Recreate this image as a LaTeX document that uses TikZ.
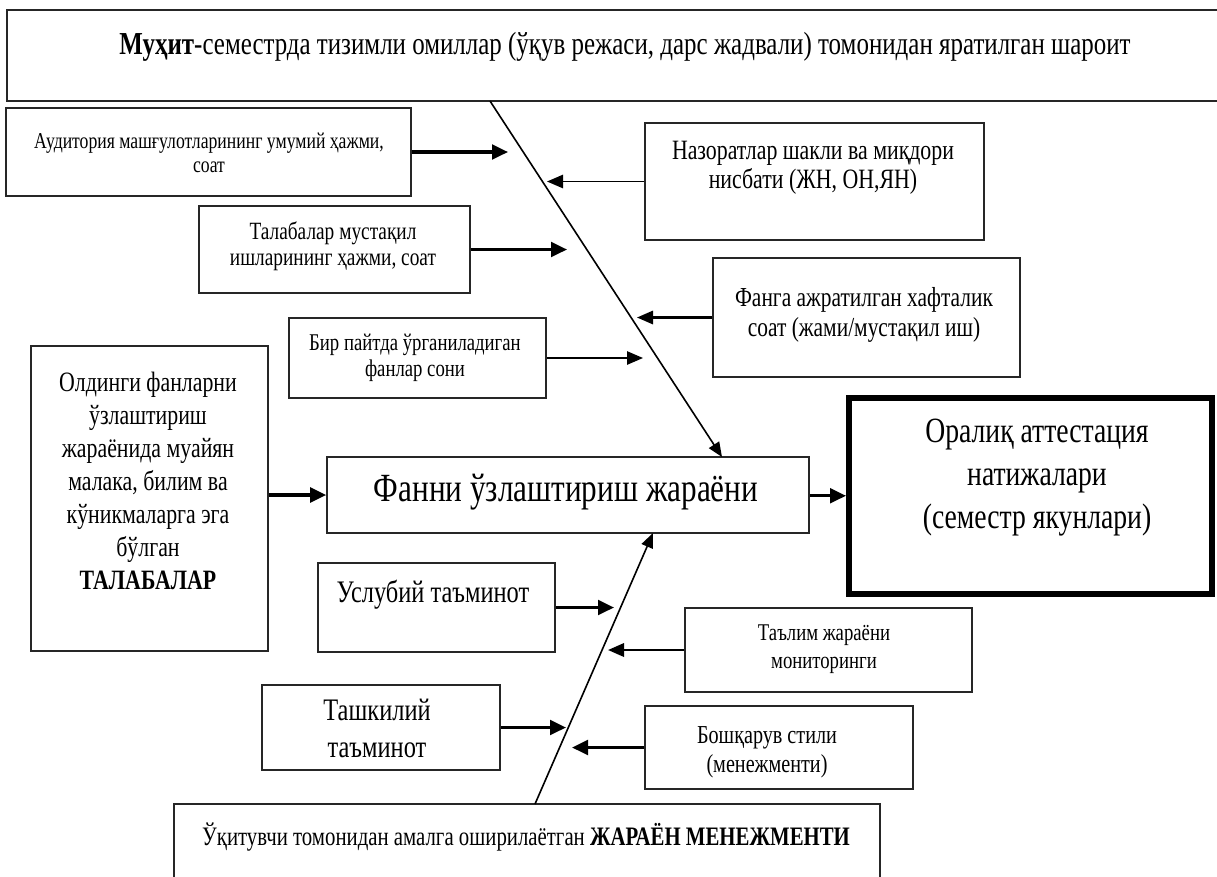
\documentclass[tikz,border=0pt]{standalone}
\usepackage{fontspec}
\setmainfont[FakeStretch=0.78]{Liberation Serif}
\usetikzlibrary{arrows.meta,fit}
\begin{document}
\begin{tikzpicture}[x=0.75pt,y=-0.75pt,
  box/.style={draw=black!85,line width=1.2pt,inner sep=0pt},
  txt/.style={inner sep=0pt,align=center,text=black},
  thickarr/.style={line width=2.3pt,-{Triangle[length=12pt,width=11pt]}},
  thinarr/.style={line width=1.2pt,-{Triangle[length=12pt,width=10pt]}},
  spine/.style={line width=1.2pt,-{Triangle[length=11pt,width=9pt]}}]
\useasboundingbox (0,0) rectangle (1217,876);
\fill[white] (0,0) rectangle (1217,876);
% boxes
\node[box,fit={(7,10) (1240,101)}] (top) {};
\node[box,fit={(6,108) (411,196)}] (A) {};
\node[box,fit={(645,123) (984,240)}] (B) {};
\node[box,fit={(199,206) (470,293)}] (C) {};
\node[box,fit={(713,258) (1020,377)}] (D) {};
\node[box,fit={(289,318) (546,398)}] (E) {};
\node[box,fit={(31,346) (268,651)}] (F) {};
\node[box,fit={(327,457) (809,533)}] (G) {};
\node[draw=black,line width=4.5pt,inner sep=0pt,fit={(849,397.5) (1212,594)}] (R) {};
\node[box,fit={(318,563) (555,652)}] (U) {};
\node[box,fit={(685,608) (972,692)}] (T) {};
\node[box,fit={(262,685) (500,770)}] (K) {};
\node[box,fit={(645,706) (913,789)}] (S) {};
\node[box,fit={(174,804) (880,920)}] (M) {};
% texts
\node[txt,font=\fontsize{24pt}{28pt}\selectfont] (topt) at (625,47) {\textbf{Муҳит}-семестрда тизимли омиллар (ўқув режаси, дарс жадвали) томонидан яратилган шароит};
\node[txt,font=\fontsize{17pt}{18pt}\selectfont] (At) at (209,153) {Аудитория машғулотларининг умумий ҳажми,\\соат};
\node[txt,font=\fontsize{21pt}{21.75pt}\selectfont] (Bt) at (813,167.5) {Назоратлар шакли ва миқдори\\нисбати (ЖН, ОН,ЯН)};
\node[txt,font=\fontsize{18.6pt}{19.5pt}\selectfont] (Ct) at (333,246) {Талабалар мустақил\\ишларининг ҳажми, соат};
\node[txt,font=\fontsize{20.6pt}{22.5pt}\selectfont] (Dt) at (864,315) {Фанга ажратилган хафталик\\соат (жами/мустақил иш)};
\node[txt,font=\fontsize{18pt}{19.5pt}\selectfont] (Et) at (415,358) {Бир пайтда ўрганиладиган\\фанлар сони};
\node[txt,font=\fontsize{21pt}{24.75pt}\selectfont] (Ft) at (148,481) {Олдинги фанларни\\ўзлаштириш\\жараёнида муайян\\малака, билим ва\\кўникмаларга эга\\бўлган\\\textbf{ТАЛАБАЛАР}};
\node[txt,font=\fontsize{30pt}{34pt}\selectfont] (Gt) at (566,492) {Фанни ўзлаштириш жараёни};
\node[txt,font=\fontsize{26.6pt}{32pt}\selectfont] (Rt) at (1037,477.5) {Оралиқ аттестация\\натижалари\\(семестр якунлари)};
\node[txt,font=\fontsize{23.5pt}{26pt}\selectfont] (Ut) at (433,595) {Услубий таъминот};
\node[txt,font=\fontsize{18pt}{21pt}\selectfont] (Tt) at (824,649) {Таълим жараёни\\мониторинги};
\node[txt,font=\fontsize{23.5pt}{27.75pt}\selectfont] (Kt) at (377,728) {Ташкилий\\таъминот};
\node[txt,font=\fontsize{19.4pt}{21.75pt}\selectfont] (St) at (767,752) {Бошқарув стили\\(менежменти)};
\node[txt,font=\fontsize{20pt}{22pt}\selectfont] (Mt) at (526,837) {Ўқитувчи томонидан амалга оширилаётган \textbf{ЖАРАЁН МЕНЕЖМЕНТИ}};
% spine coordinates
\coordinate (s1) at (490,101);
\coordinate (s2) at (722,457);
\coordinate (s3) at (535,804);
\coordinate (s4) at (653,533);
\coordinate (pA) at (508,152);
\coordinate (pB) at (547,181.5);
\coordinate (pC) at (567,249.5);
\coordinate (pD) at (637,317.5);
\coordinate (pE) at (643,358);
\coordinate (pU) at (614,607.5);
\coordinate (pT) at (608,650);
\coordinate (pK) at (566,727.5);
\coordinate (pS) at (572,747.5);
% connectors
\draw[spine] (s1) -- (s2);
\draw[spine] (s3) -- (s4);
\draw[thickarr] (A.east) -- (pA);
\draw[thinarr] (B.west) -- (pB);
\draw[thickarr] (C.east) -- (pC);
\draw[thinarr,line width=1.6pt] (D.west) -- (pD);
\draw[thinarr] (E.east) -- (pE);
\draw[thickarr] (F.east |- G.west) -- (G.west);
\draw[thickarr] (G.east |- R.west) -- (R.west);
\draw[thickarr] (U.east) -- (pU);
\draw[thinarr,line width=1.8pt] (T.west) -- (pT);
\draw[thickarr] (K.east) -- (pK);
\draw[thickarr] (S.west) -- (pS);
\end{tikzpicture}
\end{document}
